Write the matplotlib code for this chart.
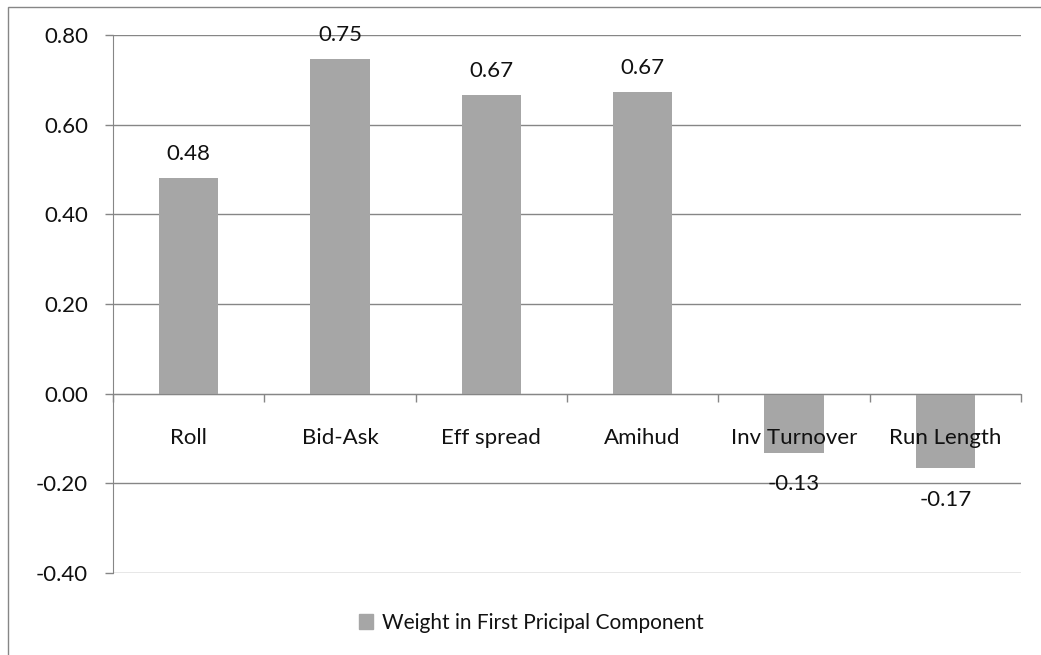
import numpy as np
import matplotlib
matplotlib.use("Agg")
from matplotlib import pyplot as plt
from matplotlib.patches import Rectangle

# --- data ---
categories = ["Roll", "Bid-Ask", "Eff spread", "Amihud", "Inv Turnover", "Run Length"]
weights = [0.482, 0.746, 0.666, 0.672, -0.132, -0.166]
series_name = "Weight in First Pricipal Component"
yticks = [-0.40, -0.20, 0.00, 0.20, 0.40, 0.60, 0.80]

BAR = "#a6a6a6"
GRID = "#868686"
TEXT = "#111111"

plt.rcParams["font.family"] = ["Lato", "DejaVu Sans"]

W, H = 1041, 655
fig = plt.figure(figsize=(W / 100, H / 100), dpi=100)
fig.patch.set_facecolor("white")

# outer chart frame
fig.patches.append(Rectangle((8 / W, -0.05), 1.2, 1 - 7 / H + 0.05,
                             transform=fig.transFigure, fill=False,
                             edgecolor=GRID, linewidth=1.0))

ax = fig.add_axes([113 / W, 1 - 573 / H, (1021 - 113) / W, (573 - 35) / H])
ax.set_axisbelow(False)  # category labels sit on top of the bars

x = np.arange(len(categories))
# gridlines under the bars
for v in yticks:
    ax.axhline(v, color=GRID, linewidth=1.0, zorder=1)
bars = ax.bar(x, weights, width=0.39, color=BAR, zorder=2)

ax.set_xlim(-0.5, len(categories) - 0.5)
ax.set_ylim(-0.4, 0.8)
ax.set_yticks(yticks)
ax.set_yticklabels([f"{v:.2f}" for v in yticks], fontsize=16, color=TEXT)
ax.tick_params(axis="y", length=6, width=1, color=GRID, pad=12)

# zero line carries the category axis
ax.spines["bottom"].set_position(("data", 0))
ax.spines["bottom"].set_color(GRID)
ax.spines["left"].set_color(GRID)
ax.spines["top"].set_visible(False)
ax.spines["right"].set_visible(False)
ax.set_xticks(np.arange(len(categories) + 1) - 0.5)
ax.set_xticklabels([])
ax.tick_params(axis="x", which="major", length=6, width=1, color=GRID, direction="out")
ax.set_xticks(x, minor=True)
ax.set_xticklabels(categories, minor=True, fontsize=16, color=TEXT)
ax.tick_params(axis="x", which="minor", length=0, pad=25)

# value labels: above positive bars, below negative ones
for xi, v in zip(x, weights):
    if v >= 0:
        ax.annotate(f"{v:.2f}", (xi, v), xytext=(0, 10), textcoords="offset points",
                    ha="center", va="bottom", fontsize=16, color=TEXT, zorder=4)
    else:
        ax.annotate(f"{v:.2f}", (xi, v), xytext=(0, -15.5), textcoords="offset points",
                    ha="center", va="top", fontsize=16, color=TEXT, zorder=4)

# legend below the plot
handle = Rectangle((0, 0), 1, 1, color=BAR)
fig.legend([handle], [series_name], loc="center", bbox_to_anchor=(531 / W, 1 - 623 / H),
           frameon=False, fontsize=15, handlelength=0.7, handleheight=0.7,
           handletextpad=0.4, labelcolor=TEXT)

fig.savefig("out.png", dpi=100)
